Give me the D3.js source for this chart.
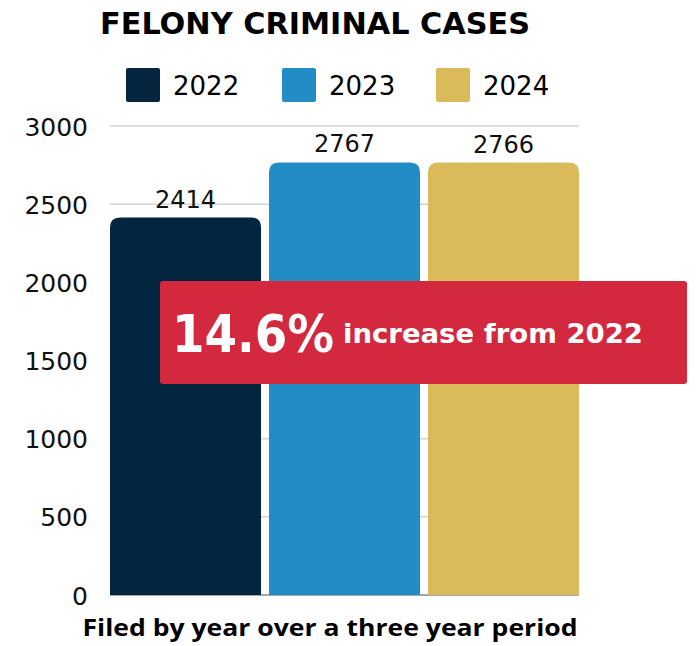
<!DOCTYPE html>
<html>
<head>
<meta charset="utf-8">
<script src="https://cdn.jsdelivr.net/npm/d3@7"></script>
<style>
  body { margin: 0; background: #fff; }
  svg { display: block; }
</style>
</head>
<body>
<svg id="chart" width="696" height="646"></svg>
<script>
const years = ["2022", "2023", "2024"];
const cases = [2414, 2767, 2766];
const colors = ["#03253f", "#228dc4", "#dbba5a"];
const yTicks = [0, 500, 1000, 1500, 2000, 2500, 3000];

const svg = d3.select("#chart");
const font = "'DejaVu Sans', sans-serif";

const x = d3.scaleBand().domain(years).range([110, 579]).paddingInner(0.05).paddingOuter(0);
const y = d3.scaleLinear().domain([0, 3000]).range([595, 126]);

// gridlines
svg.append("g").selectAll("line")
  .data(yTicks.filter(d => d > 0))
  .join("line")
  .attr("x1", 110).attr("x2", 579)
  .attr("y1", d => y(d)).attr("y2", d => y(d))
  .attr("stroke", "#d4d4d4").attr("stroke-width", 1.5);

svg.append("line")
  .attr("x1", 110).attr("x2", 579)
  .attr("y1", y(0)).attr("y2", y(0))
  .attr("stroke", "#888").attr("stroke-width", 1.5);

// y axis labels
const yAxis = d3.axisLeft(y).tickValues(yTicks).tickSize(0).tickPadding(0).tickFormat(d3.format("d"));
const ax = svg.append("g").attr("transform", "translate(88,0)").call(yAxis);
ax.select(".domain").remove();
ax.selectAll("text")
  .attr("font-family", font).attr("font-size", 25).attr("fill", "#111")
  .attr("dy", "0.36em");

// bars with rounded top corners
function topRounded(x0, y0, w, h, r) {
  return `M${x0},${y0 + h}V${y0 + r}Q${x0},${y0} ${x0 + r},${y0}H${x0 + w - r}Q${x0 + w},${y0} ${x0 + w},${y0 + r}V${y0 + h}Z`;
}

const data = years.map((yr, i) => ({ year: yr, value: cases[i], color: colors[i] }));

svg.append("g").selectAll("path")
  .data(data)
  .join("path")
  .attr("d", d => topRounded(x(d.year), y(d.value), x.bandwidth(), y(0) - y(d.value), 10))
  .attr("fill", d => d.color);

svg.append("g").selectAll("text")
  .data(data)
  .join("text")
  .attr("x", d => x(d.year) + x.bandwidth() / 2)
  .attr("y", d => y(d.value) - 10)
  .attr("text-anchor", "middle")
  .attr("font-family", font).attr("font-size", 24).attr("fill", "#111")
  .text(d => d.value);

// title
svg.append("text")
  .attr("x", 315).attr("y", 34)
  .attr("text-anchor", "middle")
  .attr("font-family", font).attr("font-weight", "bold").attr("font-size", 30)
  .attr("fill", "#000")
  .attr("textLength", 430).attr("lengthAdjust", "spacingAndGlyphs")
  .text("FELONY CRIMINAL CASES");

// legend
const legendX = [126, 282, 436];
const lg = svg.append("g").selectAll("g")
  .data(data)
  .join("g")
  .attr("transform", (d, i) => `translate(${legendX[i]},68)`);
lg.append("rect")
  .attr("width", 34).attr("height", 34).attr("rx", 2)
  .attr("fill", d => d.color);
lg.append("text")
  .attr("x", 47).attr("y", 27)
  .attr("font-family", font).attr("font-size", 26).attr("fill", "#000")
  .text(d => d.year);

// callout
svg.append("rect")
  .attr("x", 160).attr("y", 281).attr("width", 527).attr("height", 103).attr("rx", 3)
  .attr("fill", "#d4283f");
svg.append("text")
  .attr("x", 172).attr("y", 352)
  .attr("font-family", font).attr("font-weight", "bold").attr("font-size", 52)
  .attr("fill", "#fff")
  .attr("textLength", 162).attr("lengthAdjust", "spacingAndGlyphs")
  .text("14.6%");
svg.append("text")
  .attr("x", 343).attr("y", 343)
  .attr("font-family", font).attr("font-weight", "bold").attr("font-size", 27)
  .attr("fill", "#fff")
  .attr("textLength", 300).attr("lengthAdjust", "spacingAndGlyphs")
  .text("increase from 2022");

// footer
svg.append("text")
  .attr("x", 330).attr("y", 636)
  .attr("text-anchor", "middle")
  .attr("font-family", "'Open Sans', sans-serif").attr("font-weight", "bold").attr("font-size", 23)
  .attr("fill", "#000")
  .attr("textLength", 495).attr("lengthAdjust", "spacingAndGlyphs")
  .text("Filed by year over a three year period");
</script>
</body>
</html>
